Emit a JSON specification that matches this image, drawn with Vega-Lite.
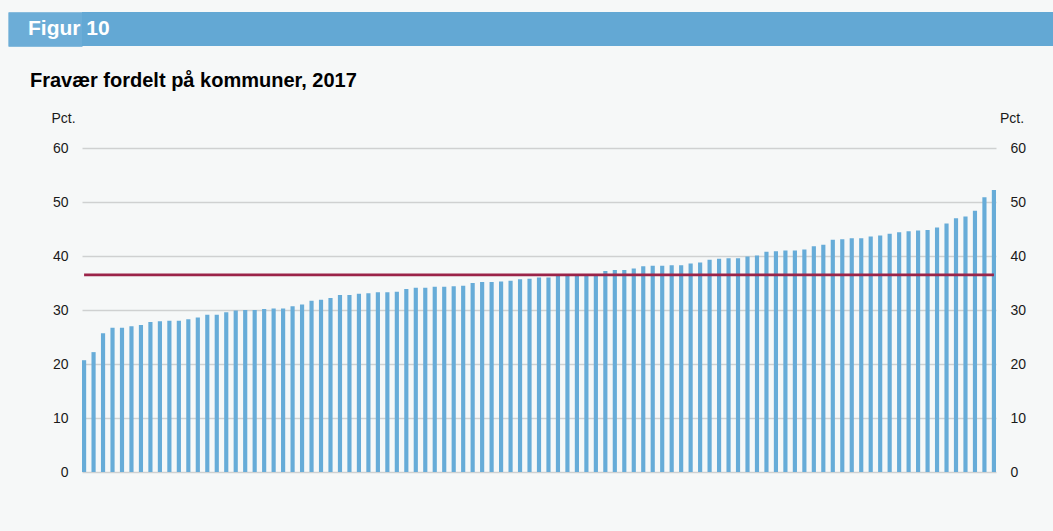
{
  "$schema": "https://vega.github.io/schema/vega-lite/v6.json",
  "background": "#f6f8f8",
  "padding": {"left": 7, "top": 11, "right": 0, "bottom": 57},
  "spacing": 24,
  "bounds": "full",
  "config": {
    "font": "Liberation Sans",
    "view": {"stroke": null}
  },
  "vconcat": [
    {
      "width": 971,
      "height": 34,
      "view": {"fill": "#63a8d4", "stroke": null},
      "data": {"values": [{"label": "Figur 10"}]},
      "mark": {"type": "text", "align": "left", "baseline": "middle", "fontSize": 21, "fontWeight": "bold", "color": "#ffffff", "dx": -54},
      "encoding": {
        "x": {"datum": 0, "type": "quantitative", "scale": {"domain": [0, 1]}, "axis": null},
        "y": {"datum": 0.5, "type": "quantitative", "scale": {"domain": [0, 1]},
          "axis": {"orient": "left", "values": [0.0147, 0.0441, 0.0735, 0.1029, 0.1324, 0.1618, 0.1912, 0.2206, 0.25, 0.2794, 0.3088, 0.3382, 0.3676, 0.3971, 0.4265, 0.4559, 0.4853, 0.5147, 0.5441, 0.5735, 0.6029, 0.6324, 0.6618, 0.6912, 0.7206, 0.75, 0.7794, 0.8088, 0.8382, 0.8676, 0.8971, 0.9265, 0.9559, 0.9853],
            "ticks": true, "tickSize": 74, "tickWidth": 1.4, "tickColor": "#63a8d4", "tickCap": "butt", "tickRound": false, "labels": false, "domain": false, "grid": false, "title": null}},
        "text": {"field": "label"}
      }
    },
    {
      "width": 914,
      "height": 324,
      "title": {"text": "Fravær fordelt på kommuner, 2017", "anchor": "start", "frame": "group", "fontSize": 20, "fontWeight": "bold", "color": "#000000", "dx": -52, "offset": 20},
      "data": {"values": [
        {"nr": 1, "fravaer": 20.7, "gennemsnit": 36.5},
        {"nr": 2, "fravaer": 22.2, "gennemsnit": 36.5},
        {"nr": 3, "fravaer": 25.7, "gennemsnit": 36.5},
        {"nr": 4, "fravaer": 26.7, "gennemsnit": 36.5},
        {"nr": 5, "fravaer": 26.7, "gennemsnit": 36.5},
        {"nr": 6, "fravaer": 27.0, "gennemsnit": 36.5},
        {"nr": 7, "fravaer": 27.2, "gennemsnit": 36.5},
        {"nr": 8, "fravaer": 27.8, "gennemsnit": 36.5},
        {"nr": 9, "fravaer": 27.9, "gennemsnit": 36.5},
        {"nr": 10, "fravaer": 28.0, "gennemsnit": 36.5},
        {"nr": 11, "fravaer": 28.0, "gennemsnit": 36.5},
        {"nr": 12, "fravaer": 28.3, "gennemsnit": 36.5},
        {"nr": 13, "fravaer": 28.6, "gennemsnit": 36.5},
        {"nr": 14, "fravaer": 29.1, "gennemsnit": 36.5},
        {"nr": 15, "fravaer": 29.1, "gennemsnit": 36.5},
        {"nr": 16, "fravaer": 29.6, "gennemsnit": 36.5},
        {"nr": 17, "fravaer": 29.9, "gennemsnit": 36.5},
        {"nr": 18, "fravaer": 30.0, "gennemsnit": 36.5},
        {"nr": 19, "fravaer": 30.0, "gennemsnit": 36.5},
        {"nr": 20, "fravaer": 30.2, "gennemsnit": 36.5},
        {"nr": 21, "fravaer": 30.3, "gennemsnit": 36.5},
        {"nr": 22, "fravaer": 30.3, "gennemsnit": 36.5},
        {"nr": 23, "fravaer": 30.7, "gennemsnit": 36.5},
        {"nr": 24, "fravaer": 31.0, "gennemsnit": 36.5},
        {"nr": 25, "fravaer": 31.7, "gennemsnit": 36.5},
        {"nr": 26, "fravaer": 31.9, "gennemsnit": 36.5},
        {"nr": 27, "fravaer": 32.2, "gennemsnit": 36.5},
        {"nr": 28, "fravaer": 32.8, "gennemsnit": 36.5},
        {"nr": 29, "fravaer": 32.8, "gennemsnit": 36.5},
        {"nr": 30, "fravaer": 33.0, "gennemsnit": 36.5},
        {"nr": 31, "fravaer": 33.1, "gennemsnit": 36.5},
        {"nr": 32, "fravaer": 33.3, "gennemsnit": 36.5},
        {"nr": 33, "fravaer": 33.3, "gennemsnit": 36.5},
        {"nr": 34, "fravaer": 33.4, "gennemsnit": 36.5},
        {"nr": 35, "fravaer": 33.9, "gennemsnit": 36.5},
        {"nr": 36, "fravaer": 34.1, "gennemsnit": 36.5},
        {"nr": 37, "fravaer": 34.1, "gennemsnit": 36.5},
        {"nr": 38, "fravaer": 34.3, "gennemsnit": 36.5},
        {"nr": 39, "fravaer": 34.3, "gennemsnit": 36.5},
        {"nr": 40, "fravaer": 34.4, "gennemsnit": 36.5},
        {"nr": 41, "fravaer": 34.5, "gennemsnit": 36.5},
        {"nr": 42, "fravaer": 35.0, "gennemsnit": 36.5},
        {"nr": 43, "fravaer": 35.2, "gennemsnit": 36.5},
        {"nr": 44, "fravaer": 35.2, "gennemsnit": 36.5},
        {"nr": 45, "fravaer": 35.3, "gennemsnit": 36.5},
        {"nr": 46, "fravaer": 35.4, "gennemsnit": 36.5},
        {"nr": 47, "fravaer": 35.7, "gennemsnit": 36.5},
        {"nr": 48, "fravaer": 35.8, "gennemsnit": 36.5},
        {"nr": 49, "fravaer": 36.0, "gennemsnit": 36.5},
        {"nr": 50, "fravaer": 36.0, "gennemsnit": 36.5},
        {"nr": 51, "fravaer": 36.3, "gennemsnit": 36.5},
        {"nr": 52, "fravaer": 36.3, "gennemsnit": 36.5},
        {"nr": 53, "fravaer": 36.4, "gennemsnit": 36.5},
        {"nr": 54, "fravaer": 36.4, "gennemsnit": 36.5},
        {"nr": 55, "fravaer": 36.5, "gennemsnit": 36.5},
        {"nr": 56, "fravaer": 37.2, "gennemsnit": 36.5},
        {"nr": 57, "fravaer": 37.4, "gennemsnit": 36.5},
        {"nr": 58, "fravaer": 37.4, "gennemsnit": 36.5},
        {"nr": 59, "fravaer": 37.7, "gennemsnit": 36.5},
        {"nr": 60, "fravaer": 38.1, "gennemsnit": 36.5},
        {"nr": 61, "fravaer": 38.2, "gennemsnit": 36.5},
        {"nr": 62, "fravaer": 38.2, "gennemsnit": 36.5},
        {"nr": 63, "fravaer": 38.3, "gennemsnit": 36.5},
        {"nr": 64, "fravaer": 38.3, "gennemsnit": 36.5},
        {"nr": 65, "fravaer": 38.6, "gennemsnit": 36.5},
        {"nr": 66, "fravaer": 38.8, "gennemsnit": 36.5},
        {"nr": 67, "fravaer": 39.3, "gennemsnit": 36.5},
        {"nr": 68, "fravaer": 39.5, "gennemsnit": 36.5},
        {"nr": 69, "fravaer": 39.6, "gennemsnit": 36.5},
        {"nr": 70, "fravaer": 39.6, "gennemsnit": 36.5},
        {"nr": 71, "fravaer": 39.9, "gennemsnit": 36.5},
        {"nr": 72, "fravaer": 40.1, "gennemsnit": 36.5},
        {"nr": 73, "fravaer": 40.8, "gennemsnit": 36.5},
        {"nr": 74, "fravaer": 40.9, "gennemsnit": 36.5},
        {"nr": 75, "fravaer": 41.0, "gennemsnit": 36.5},
        {"nr": 76, "fravaer": 41.0, "gennemsnit": 36.5},
        {"nr": 77, "fravaer": 41.2, "gennemsnit": 36.5},
        {"nr": 78, "fravaer": 41.8, "gennemsnit": 36.5},
        {"nr": 79, "fravaer": 42.1, "gennemsnit": 36.5},
        {"nr": 80, "fravaer": 43.0, "gennemsnit": 36.5},
        {"nr": 81, "fravaer": 43.1, "gennemsnit": 36.5},
        {"nr": 82, "fravaer": 43.3, "gennemsnit": 36.5},
        {"nr": 83, "fravaer": 43.3, "gennemsnit": 36.5},
        {"nr": 84, "fravaer": 43.6, "gennemsnit": 36.5},
        {"nr": 85, "fravaer": 43.8, "gennemsnit": 36.5},
        {"nr": 86, "fravaer": 44.1, "gennemsnit": 36.5},
        {"nr": 87, "fravaer": 44.4, "gennemsnit": 36.5},
        {"nr": 88, "fravaer": 44.6, "gennemsnit": 36.5},
        {"nr": 89, "fravaer": 44.7, "gennemsnit": 36.5},
        {"nr": 90, "fravaer": 44.8, "gennemsnit": 36.5},
        {"nr": 91, "fravaer": 45.3, "gennemsnit": 36.5},
        {"nr": 92, "fravaer": 46.0, "gennemsnit": 36.5},
        {"nr": 93, "fravaer": 47.0, "gennemsnit": 36.5},
        {"nr": 94, "fravaer": 47.3, "gennemsnit": 36.5},
        {"nr": 95, "fravaer": 48.4, "gennemsnit": 36.5},
        {"nr": 96, "fravaer": 50.9, "gennemsnit": 36.5},
        {"nr": 97, "fravaer": 52.2, "gennemsnit": 36.5}
      ]},
      "resolve": {"axis": {"y": "independent"}},
      "layer": [
        {
          "mark": {"type": "bar", "color": "#67acd8"},
          "encoding": {
            "x": {"field": "nr", "type": "ordinal", "sort": null, "axis": null, "scale": {"paddingInner": 0.56, "paddingOuter": 0}},
            "y": {"field": "fravaer", "type": "quantitative", "scale": {"domain": [0, 60]},
              "axis": {"orient": "left", "values": [0, 10, 20, 30, 40, 50, 60], "grid": true, "gridColor": "#cfd1d1", "gridWidth": 1.3, "domain": false, "ticks": true, "tickSize": 74, "tickOpacity": 0, "labelPadding": -60, "labelFontSize": 14, "labelColor": "#1a1a1a",
                "title": "Pct.", "titleAngle": 0, "titleX": -31, "titleY": -30, "titleAlign": "left", "titleBaseline": "middle", "titleFontWeight": "normal", "titleFontSize": 14, "titleColor": "#1a1a1a"}}
          }
        },
        {
          "mark": {"type": "line", "color": "#9b2449", "strokeWidth": 2.8},
          "encoding": {
            "x": {"field": "nr", "type": "ordinal", "sort": null},
            "y": {"field": "gennemsnit", "type": "quantitative",
              "axis": {"orient": "right", "values": [0, 10, 20, 30, 40, 50, 60], "grid": false, "domain": false, "ticks": false, "labelPadding": 14, "labelFontSize": 14, "labelColor": "#1a1a1a",
                "title": "Pct.", "titleAngle": 0, "titleX": 3.5, "titleY": -30, "titleAlign": "left", "titleBaseline": "middle", "titleFontWeight": "normal", "titleFontSize": 14, "titleColor": "#1a1a1a"}}
          }
        }
      ]
    }
  ]
}
